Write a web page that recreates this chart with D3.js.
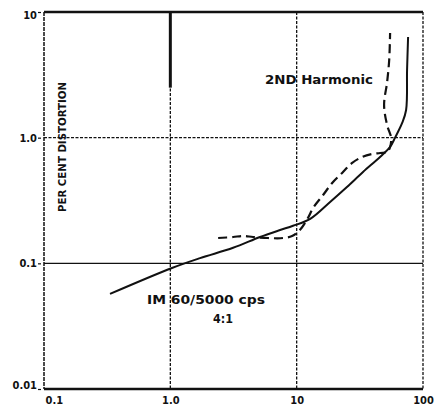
<!DOCTYPE html>
<html><head><meta charset="utf-8">
<script src="https://cdn.jsdelivr.net/npm/d3@7"></script>
<style>
body{margin:0;background:#fff;}
svg{display:block;}
text{font-family:"DejaVu Sans Condensed","DejaVu Sans",sans-serif;font-weight:bold;fill:#111;}
</style></head>
<body><svg id="c" width="440" height="408"></svg>
<script>
// ---- data ----
const xTicks = [0.1, 1, 10, 100];
const xTickLabels = ["0.1", "1.0", "10", "100"];
const yTicks = [0.01, 0.1, 1, 10];
const yTickLabels = ["0.01", "0.1", "1.0", "10"];
const yTitle = "PER CENT DISTORTION";

// IM 60/5000 cps 4:1 (solid)
const imX = [0.333, 1.03, 1.72, 3.14, 5.13, 7.39, 9.36, 12.8, 18.4, 25.0, 33.5, 45.7, 54.9, 60.1, 68.4, 73.5, 74.8, 76.2];
const imY = [0.0571, 0.0918, 0.110, 0.133, 0.162, 0.184, 0.199, 0.226, 0.308, 0.405, 0.533, 0.702, 0.844, 1.0, 1.31, 1.66, 3.46, 6.33];

// 2nd Harmonic (dashed)
const h2X = [2.39, 3.14, 3.76, 4.52, 5.94, 7.80, 9.2, 10.6, 12.3, 13.5, 16.2, 19.1, 22.9, 27.5, 33.0, 39.5, 45.7, 52.0, 54.9, 55.9, 52.0, 49.2, 52.0, 54.0, 54.9];
const h2Y = [0.159, 0.162, 0.165, 0.162, 0.159, 0.159, 0.165, 0.184, 0.230, 0.276, 0.350, 0.436, 0.524, 0.629, 0.702, 0.741, 0.755, 0.769, 0.844, 1.0, 1.26, 1.82, 2.77, 4.15, 6.81];

const labels = [
  {text: "2ND Harmonic", x: 265, y: 84, len: 108, size: 12},
  {text: "IM 60/5000 cps", x: 147, y: 304, len: 118, size: 12},
  {text: "4:1", x: 213, y: 323, len: 20, size: 12}
];

// ---- chart ----
const svg = d3.select("#c");
const L = 44, R = 423, T = 12, B = 389;
const x = d3.scaleLog().domain([0.1, 100]).range([L, R]);
const y = d3.scaleLog().domain([0.01, 10]).range([B, T]);

// grid lines
const g = svg.append("g");
g.selectAll("line.v").data([1, 10]).join("line")
  .attr("x1", d => x(d)).attr("x2", d => x(d)).attr("y1", T).attr("y2", B)
  .attr("stroke", "#111").attr("stroke-width", 1.3).attr("stroke-dasharray", "3,1.5");
// thick upper portion on x=1 line
g.append("line").attr("x1", x(1)).attr("x2", x(1)).attr("y1", T).attr("y2", y(2.5))
  .attr("stroke", "#111").attr("stroke-width", 3);
g.append("line").attr("x1", L).attr("x2", R).attr("y1", y(1)).attr("y2", y(1))
  .attr("stroke", "#111").attr("stroke-width", 1.3).attr("stroke-dasharray", "3,1.5");
g.append("line").attr("x1", L).attr("x2", R).attr("y1", y(0.1)).attr("y2", y(0.1))
  .attr("stroke", "#111").attr("stroke-width", 1.3);

// frame
g.append("line").attr("x1", L).attr("x2", R).attr("y1", T).attr("y2", T)
  .attr("stroke", "#111").attr("stroke-width", 2.5);
g.append("line").attr("x1", L).attr("x2", R).attr("y1", B).attr("y2", B)
  .attr("stroke", "#111").attr("stroke-width", 2.5);
g.append("line").attr("x1", L).attr("x2", L).attr("y1", T).attr("y2", B)
  .attr("stroke", "#111").attr("stroke-width", 1.5).attr("stroke-dasharray", "4,1");
g.append("line").attr("x1", R).attr("x2", R).attr("y1", T).attr("y2", B)
  .attr("stroke", "#111").attr("stroke-width", 1.3).attr("stroke-dasharray", "3,1.5");

// axes
const xa = svg.append("g").attr("transform", `translate(0,${B + 4})`)
  .call(d3.axisBottom(x).tickValues(xTicks).tickSize(0).tickFormat((d, i) => xTickLabels[i]));
xa.select(".domain").remove();
xa.selectAll("text").attr("font-size", 11).attr("dy", "0.71em")
  .attr("text-anchor", (d, i) => i === 0 ? "start" : "middle")
  .attr("dx", (d, i) => i === 0 ? 1 : 0);

const ya = svg.append("g").attr("transform", `translate(${L - 3},0)`)
  .call(d3.axisLeft(y).tickValues(yTicks).tickSize(3).tickPadding(1).tickFormat((d, i) => yTickLabels[i]));
ya.select(".domain").remove();
ya.selectAll("line").attr("stroke", "#111").attr("stroke-width", 1.2);
ya.selectAll("text").attr("font-size", 11)
  .attr("dy", (d, i) => i === 0 ? "-0.05em" : (i === 3 ? "0.55em" : "0.32em"));

// y title
svg.append("text").attr("transform", "translate(66,147) rotate(-90)")
  .attr("text-anchor", "middle").attr("font-size", 11)
  .attr("textLength", 130).attr("lengthAdjust", "spacingAndGlyphs")
  .text(yTitle);

// curves
const line = d3.line().x(d => x(d[0])).y(d => y(d[1])).curve(d3.curveCatmullRom.alpha(0.5));
svg.append("path").datum(imX.map((v, i) => [v, imY[i]]))
  .attr("d", line).attr("fill", "none").attr("stroke", "#111").attr("stroke-width", 2);
svg.append("path").datum(h2X.map((v, i) => [v, h2Y[i]]))
  .attr("d", line).attr("fill", "none").attr("stroke", "#111").attr("stroke-width", 2.2)
  .attr("stroke-dasharray", "9,5");

// labels
svg.selectAll("text.lbl").data(labels).join("text").attr("class", "lbl")
  .attr("x", d => d.x).attr("y", d => d.y).attr("font-size", d => d.size)
  .attr("textLength", d => d.len).attr("lengthAdjust", "spacingAndGlyphs")
  .text(d => d.text);
</script></body></html>
